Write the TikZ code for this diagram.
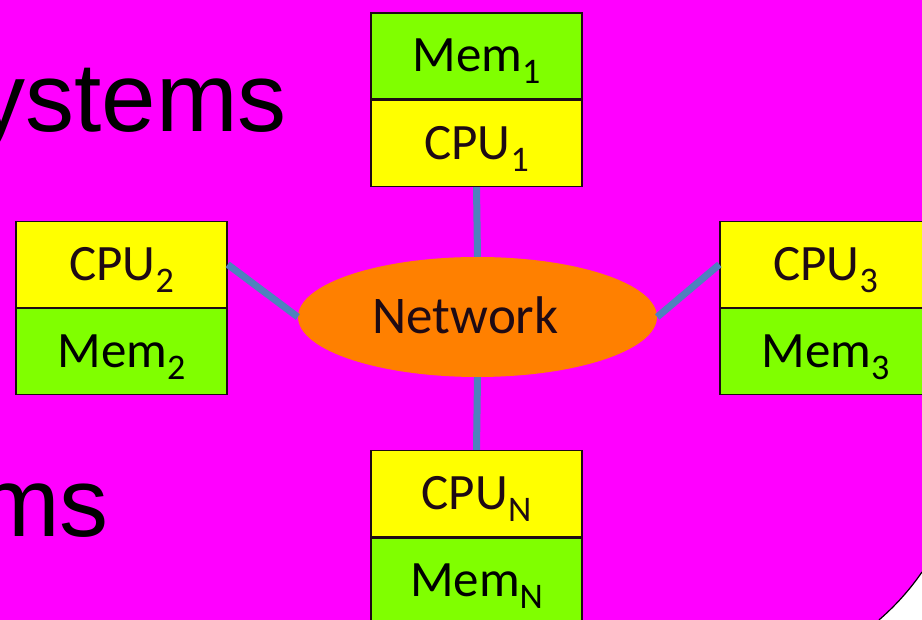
\documentclass[tikz,border=0pt]{standalone}
\usepackage{fontspec}
\setmainfont{Carlito}
\newfontfamily\titlefont{Liberation Sans}
\usetikzlibrary{shapes.geometric}
\definecolor{slidebg}{HTML}{FF00FF}
\definecolor{memgreen}{HTML}{80FF00}
\definecolor{cpuyellow}{HTML}{FFFF00}
\definecolor{netorange}{HTML}{FF8000}
\definecolor{linkblue}{HTML}{4F81BD}
\definecolor{inkdark}{HTML}{1E0A14}
% lowered index after a unit name
\newcommand\subidx[1]{\raisebox{-12pt}{\fontsize{36}{36}\selectfont #1}}

\begin{document}
\begin{tikzpicture}[x=1pt,y=1pt,
  unit/.style={draw=inkdark, line width=1.3pt, minimum width=211pt, minimum height=86pt,
    inner sep=0pt, text height=32pt, text depth=0pt, font=\fontsize{51}{51}\selectfont},
  cpubox/.style={unit, fill=cpuyellow, text=inkdark},
  membox/.style={unit, fill=memgreen, text=black},
  link/.style={draw=linkblue, line width=7pt},
  bigword/.style={font=\titlefont\fontsize{98}{98}\selectfont, inner sep=0pt, text=black}]
\clip (0,0) rectangle (922,620);
% slide background with its rounded corner
\fill[slidebg] (0,0) rectangle (922,620);
\fill[white] (922,48) arc[start angle=-34.5, end angle=-49.3, radius=250] -- (922,0) -- cycle;
\draw[black, line width=1.2pt] (922,48) arc[start angle=-34.5, end angle=-49.3, radius=250];

% title fragments
\node[bigword, anchor=base east] (w1) at (287,488) {ystems};
\node[bigword, anchor=base east] (w2) at (109,83) {ms};

% network
\node[ellipse, fill=netorange, minimum width=359pt, minimum height=120pt, inner sep=0pt,
  text=inkdark, text height=34pt, text depth=0pt, font=\fontsize{53}{53}\selectfont]
  (net) at (477.5,303) {Network\hspace*{24pt}};

% processing units
\node[membox] (mem1) at (476.5,564) {Mem\subidx{1}};
\node[cpubox] (cpu1) at (476.5,476.5) {CPU\subidx{1}};
\node[cpubox] (cpu2) at (121.5,355.5) {CPU\subidx{2}};
\node[membox] (mem2) at (121.5,268.5) {Mem\subidx{2}};
\node[cpubox] (cpu3) at (825.5,355.5) {CPU\subidx{3}};
\node[membox] (mem3) at (825.5,268.5) {Mem\subidx{3}};
\node[cpubox] (cpuN) at (476.5,126.5) {CPU\subidx{N}};
\node[membox] (memN) at (476.5,39) {Mem\subidx{N}};

% links to the network
\draw[link] (cpu1.south) -- (net.north);
\draw[link] (cpu2.east) -- (net.west);
\draw[link] (cpu3.west) -- (net.east);
\draw[link] (cpuN.north) -- (net.south);
\end{tikzpicture}
\end{document}
